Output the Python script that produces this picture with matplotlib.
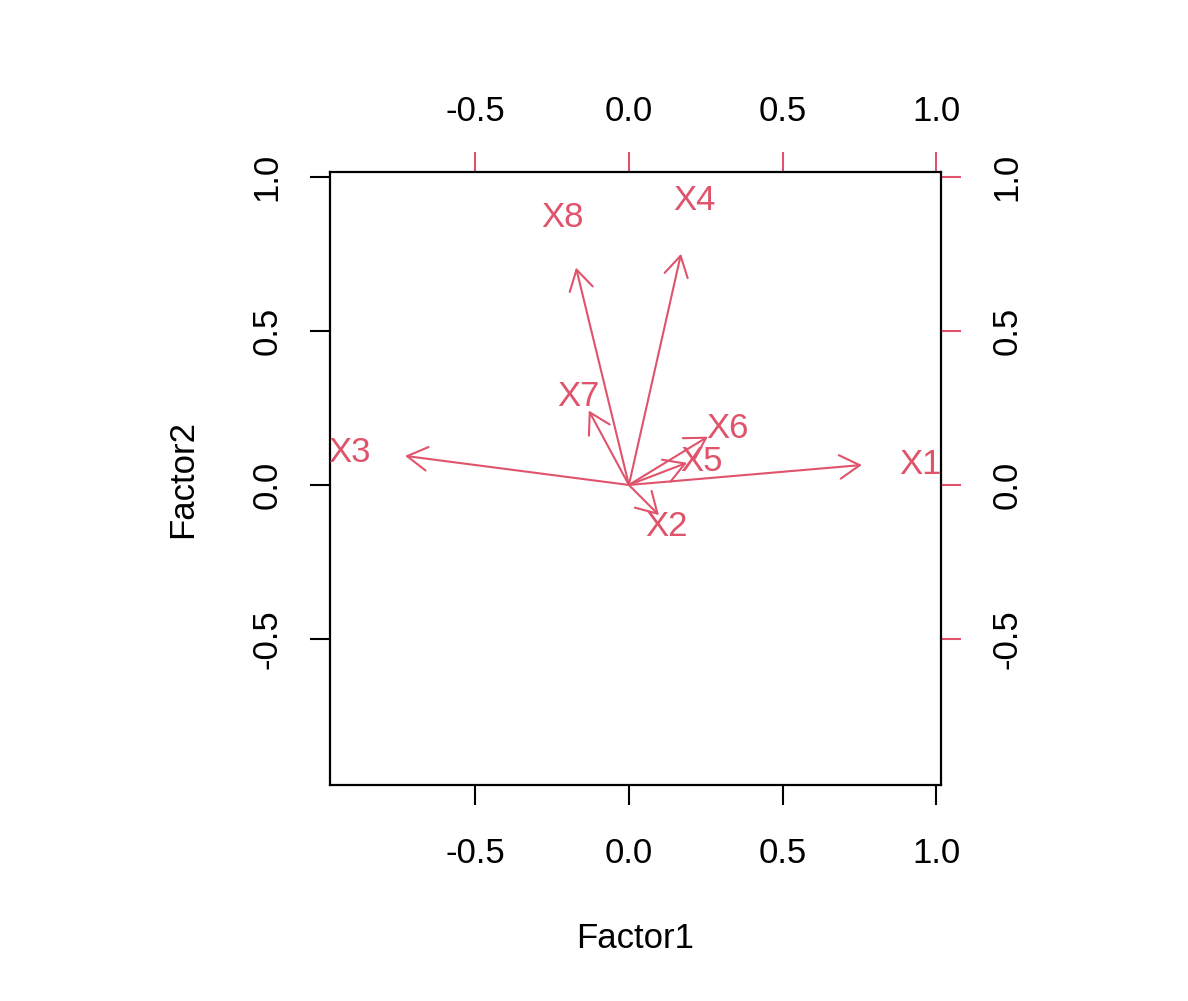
import numpy as np
import matplotlib.pyplot as plt

plt.rcParams["font.family"] = ["Liberation Sans", "DejaVu Sans"]

# loadings
variables = ["X1", "X2", "X3", "X4", "X5", "X6", "X7", "X8"]
factor1 = [0.947, 0.122, -0.910, 0.212, 0.236, 0.321, -0.163, -0.215]
factor2 = [0.081, -0.122, 0.118, 0.938, 0.090, 0.196, 0.302, 0.882]
ticks = [-0.5, 0.0, 0.5, 1.0]
tick_labels = ["-0.5", "0.0", "0.5", "1.0"]

red = "#DF536B"
fs = 25

fig = plt.figure(figsize=(11.88, 10.01), dpi=100)
ax = fig.add_axes([330 / 1188, 216 / 1001, 611 / 1188, 613 / 1001])
ax.set_xlim(-0.972, 1.015)
ax.set_ylim(-0.974, 1.016)

for name, x, y in zip(variables, factor1, factor2):
    ax.annotate("", xy=(0.8 * x, 0.8 * y), xytext=(0, 0),
                arrowprops=dict(arrowstyle="->,head_length=1.45,head_width=0.85",
                                color=red, lw=1.5, shrinkA=0, shrinkB=0))
    ax.annotate(name, xy=(x, y), xytext=(0, -3), textcoords="offset points",
                color=red, fontsize=fs, ha="center", va="center")

for s in ax.spines.values():
    s.set_linewidth(1.6)

ax.set_xticks(ticks)
ax.set_xticklabels(tick_labels)
ax.set_yticks(ticks)
ax.set_yticklabels(tick_labels, rotation=90, va="center")
ax.tick_params(axis="both", direction="out", length=14.4, width=1.5, labelsize=fs)
ax.tick_params(axis="x", pad=23)
ax.tick_params(axis="y", pad=19)

# top and right axes: red ticks, black labels
top = ax.secondary_xaxis("top")
top.set_xticks(ticks)
top.set_xticklabels(tick_labels)
top.tick_params(direction="out", length=14.4, width=1.5, color=red,
                labelcolor="black", labelsize=fs, pad=17)
top.spines["top"].set_visible(False)

right = ax.secondary_yaxis("right")
right.set_yticks(ticks)
right.set_yticklabels(tick_labels, rotation=90, va="center")
right.tick_params(direction="out", length=14.4, width=1.5, color=red,
                  labelcolor="black", labelsize=fs, pad=21)
right.spines["right"].set_visible(False)

ax.set_xlabel("Factor1", fontsize=fs, va="center")
ax.set_ylabel("Factor2", fontsize=fs, va="center")
ax.xaxis.set_label_coords(0.5, (785 - 938) / 613)
ax.yaxis.set_label_coords((183 - 330) / 611, 0.5)

fig.savefig("out.png", dpi=100)
